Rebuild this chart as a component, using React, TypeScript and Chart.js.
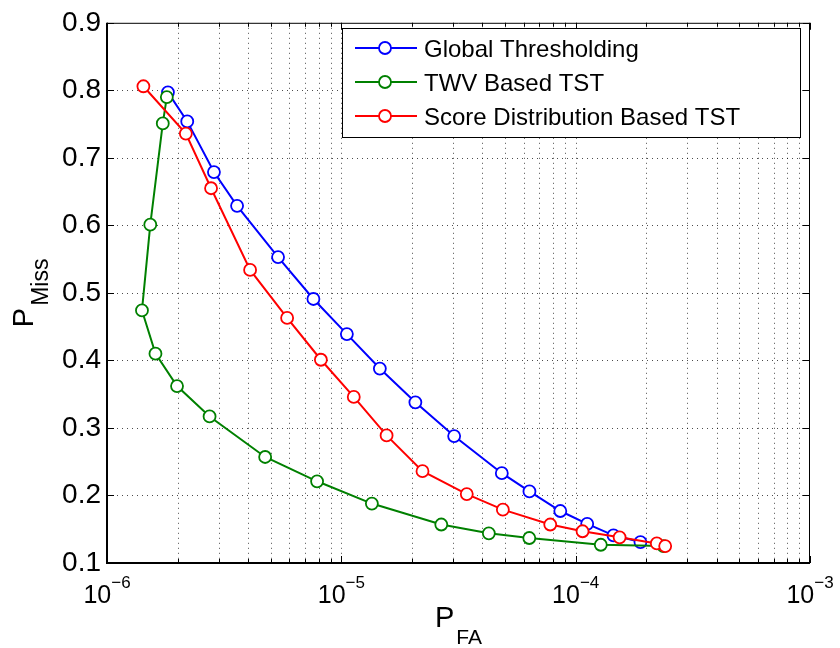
import React, { useEffect, useRef } from "react";
import { Chart, registerables } from "chart.js";
Chart.register(...registerables);

// ---- Data ----
const seriesNames = ["Global Thresholding", "TWV Based TST", "Score Distribution Based TST"];
const seriesColors = ["#0000ff", "#008000", "#ff0000"];

const globalPFA = [1.82e-6, 2.2e-6, 2.86e-6, 3.59e-6, 5.37e-6, 7.6e-6, 1.056e-5, 1.46e-5, 2.07e-5, 3.03e-5, 4.84e-5, 6.35e-5, 8.6e-5, 1.12e-4, 1.45e-4, 1.89e-4];
const globalPMiss = [0.797, 0.754, 0.679, 0.629, 0.553, 0.491, 0.439, 0.388, 0.338, 0.288, 0.233, 0.206, 0.177, 0.158, 0.141, 0.131];

const twvPFA = [1.8e-6, 1.73e-6, 1.53e-6, 1.41e-6, 1.61e-6, 1.99e-6, 2.74e-6, 4.73e-6, 7.88e-6, 1.35e-5, 2.67e-5, 4.26e-5, 6.34e-5, 1.28e-4, 2.37e-4];
const twvPMiss = [0.79, 0.751, 0.601, 0.474, 0.41, 0.362, 0.317, 0.257, 0.221, 0.188, 0.157, 0.144, 0.137, 0.127, 0.125];

const sdPFA = [1.43e-6, 2.17e-6, 2.78e-6, 4.08e-6, 5.87e-6, 8.18e-6, 1.13e-5, 1.56e-5, 2.22e-5, 3.43e-5, 4.89e-5, 7.79e-5, 1.07e-4, 1.54e-4, 2.22e-4, 2.41e-4];
const sdPMiss = [0.806, 0.736, 0.655, 0.534, 0.463, 0.401, 0.346, 0.289, 0.236, 0.202, 0.179, 0.157, 0.147, 0.138, 0.129, 0.125];

const xMin = 1e-6;
const xMax = 1e-3;
const xDecadeExponents = [-6, -5, -4, -3];
const xMinorMultipliers = [2, 3, 4, 5, 6, 7, 8, 9];
const yTicks = [0.1, 0.2, 0.3, 0.4, 0.5, 0.6, 0.7, 0.8, 0.9];

const FONT = '"Liberation Sans", Arial, Helvetica, sans-serif';

function toPoints(xs: number[], ys: number[]) {
  return xs.map((x, i) => ({ x, y: ys[i] }));
}

const decorPlugin = {
  id: "matlabDecor",
  beforeDatasetsDraw(chart: any) {
    const { ctx, chartArea } = chart;
    const { left, right, top, bottom } = chartArea;
    const xs = chart.scales.x;
    const ys = chart.scales.y;
    ctx.save();
    ctx.strokeStyle = "rgba(0,0,0,0.7)";
    ctx.lineWidth = 1;
    ctx.setLineDash([1, 4]);
    // vertical grid lines (major + minor)
    const xVals: number[] = [];
    xDecadeExponents.forEach((e) => {
      xVals.push(Math.pow(10, e));
      if (e < -3) xMinorMultipliers.forEach((m) => xVals.push(m * Math.pow(10, e)));
    });
    xVals.forEach((v) => {
      const px = Math.round(xs.getPixelForValue(v)) + 0.5;
      if (px <= left + 1 || px >= right - 1) return;
      ctx.beginPath();
      ctx.moveTo(px, top);
      ctx.lineTo(px, bottom);
      ctx.stroke();
    });
    yTicks.forEach((v) => {
      const py = Math.round(ys.getPixelForValue(v)) + 0.5;
      if (py <= top + 1 || py >= bottom - 1) return;
      ctx.beginPath();
      ctx.moveTo(left, py);
      ctx.lineTo(right, py);
      ctx.stroke();
    });
    ctx.restore();
  },
  afterDatasetsDraw(chart: any) {
    const { ctx, chartArea } = chart;
    const { left, right, top, bottom } = chartArea;
    const xs = chart.scales.x;
    const ys = chart.scales.y;
    ctx.save();
    ctx.setLineDash([]);
    ctx.strokeStyle = "#000";
    // box
    ctx.lineWidth = 1;
    ctx.beginPath();
    ctx.moveTo(left, top + 0.5);
    ctx.lineTo(right, top + 0.5);
    ctx.moveTo(right - 0.5, top);
    ctx.lineTo(right - 0.5, bottom);
    ctx.stroke();
    ctx.lineWidth = 2;
    ctx.beginPath();
    ctx.moveTo(left, top);
    ctx.lineTo(left, bottom);
    ctx.lineTo(right, bottom);
    ctx.stroke();

    // ticks
    ctx.lineWidth = 1;
    ctx.beginPath();
    xDecadeExponents.forEach((e) => {
      const px = Math.round(xs.getPixelForValue(Math.pow(10, e))) + 0.5;
      ctx.moveTo(px, bottom);
      ctx.lineTo(px, bottom - 7);
      ctx.moveTo(px, top);
      ctx.lineTo(px, top + 7);
      if (e < -3) {
        xMinorMultipliers.forEach((m) => {
          const mx = Math.round(xs.getPixelForValue(m * Math.pow(10, e))) + 0.5;
          ctx.moveTo(mx, bottom);
          ctx.lineTo(mx, bottom - 4);
          ctx.moveTo(mx, top);
          ctx.lineTo(mx, top + 4);
        });
      }
    });
    yTicks.forEach((v) => {
      const py = Math.round(ys.getPixelForValue(v)) + 0.5;
      ctx.moveTo(left, py);
      ctx.lineTo(left + 7, py);
      ctx.moveTo(right, py);
      ctx.lineTo(right - 7, py);
    });
    ctx.stroke();

    // x tick labels 10^e
    ctx.fillStyle = "#000";
    ctx.textBaseline = "alphabetic";
    ctx.textAlign = "left";
    xDecadeExponents.forEach((e) => {
      const px = xs.getPixelForValue(Math.pow(10, e));
      const base = "10";
      const sup = "\u2212" + String(Math.abs(e));
      ctx.font = `25px ${FONT}`;
      const wb = ctx.measureText(base).width;
      ctx.font = `17px ${FONT}`;
      const ws = ctx.measureText(sup).width;
      const start = px - (wb + ws) / 2;
      ctx.font = `25px ${FONT}`;
      ctx.fillText(base, start, bottom + 40);
      ctx.font = `17px ${FONT}`;
      ctx.fillText(sup, start + wb, bottom + 25);
    });

    // x axis title P_FA
    {
      const cx = (left + right) / 2;
      ctx.font = `29px ${FONT}`;
      const wp = ctx.measureText("P").width;
      ctx.font = `21px ${FONT}`;
      const wf = ctx.measureText("FA").width;
      const start = cx - (wp + wf + 2) / 2;
      ctx.font = `29px ${FONT}`;
      ctx.fillText("P", start, bottom + 64);
      ctx.font = `21px ${FONT}`;
      ctx.fillText("FA", start + wp + 2, bottom + 81);
    }

    // y axis title P_Miss (rotated)
    {
      const cy = (top + bottom) / 2;
      ctx.save();
      ctx.translate(33, cy);
      ctx.rotate(-Math.PI / 2);
      ctx.font = `29px ${FONT}`;
      const wp = ctx.measureText("P").width;
      ctx.font = `23px ${FONT}`;
      const wm = ctx.measureText("Miss").width;
      const start = -(wp + wm + 2) / 2;
      ctx.font = `29px ${FONT}`;
      ctx.fillText("P", start, 0);
      ctx.font = `23px ${FONT}`;
      ctx.fillText("Miss", start + wp + 2, 14.5);
      ctx.restore();
    }

    // legend
    {
      const lx = 342, ly = 28, lw = 458, lh = 109;
      ctx.fillStyle = "#fff";
      ctx.fillRect(lx, ly, lw, lh);
      ctx.strokeStyle = "#000";
      ctx.lineWidth = 1;
      ctx.strokeRect(lx + 0.5, ly + 0.5, lw, lh);
      const rows = [48, 82, 116];
      seriesNames.forEach((name, i) => {
        const yRow = rows[i];
        ctx.strokeStyle = seriesColors[i];
        ctx.lineWidth = 2;
        ctx.beginPath();
        ctx.moveTo(355, yRow);
        ctx.lineTo(417, yRow);
        ctx.stroke();
        ctx.beginPath();
        ctx.arc(385, yRow, 6, 0, Math.PI * 2);
        ctx.fillStyle = "#fff";
        ctx.fill();
        ctx.lineWidth = 1.8;
        ctx.stroke();
        ctx.fillStyle = "#000";
        ctx.font = `24px ${FONT}`;
        ctx.textAlign = "left";
        ctx.textBaseline = "alphabetic";
        ctx.fillText(name, 424, yRow + 9);
      });
    }
    ctx.restore();
  },
};

export default function App() {
  const canvasRef = useRef<HTMLCanvasElement | null>(null);

  useEffect(() => {
    const canvas = canvasRef.current;
    if (!canvas) return;
    const mk = (i: number, xs: number[], ys: number[], order: number) => ({
      label: seriesNames[i],
      data: toPoints(xs, ys),
      borderColor: seriesColors[i],
      backgroundColor: "#ffffff",
      pointBackgroundColor: "#ffffff",
      pointBorderColor: seriesColors[i],
      pointRadius: 6,
      pointBorderWidth: 1.8,
      borderWidth: 2,
      tension: 0,
      fill: false,
      order,
    });
    const chart = new Chart(canvas, {
      type: "line",
      data: {
        datasets: [
          mk(0, globalPFA, globalPMiss, 3),
          mk(1, twvPFA, twvPMiss, 2),
          mk(2, sdPFA, sdPMiss, 1),
        ],
      },
      options: {
        responsive: false,
        animation: false,
        devicePixelRatio: 1,
        layout: { padding: { top: 18, right: 30, left: 0, bottom: 0 } },
        plugins: { legend: { display: false }, tooltip: { enabled: false }, title: { display: false } },
        scales: {
          x: {
            type: "logarithmic",
            min: xMin,
            max: xMax,
            grid: { display: false },
            border: { display: false },
            ticks: { display: false },
            afterFit: (s: any) => {
              s.height = 85;
            },
          },
          y: {
            type: "linear",
            min: 0.1,
            max: 0.9,
            afterBuildTicks: (s: any) => {
              s.ticks = yTicks.map((v) => ({ value: v }));
            },
            grid: { display: false, drawTicks: false },
            border: { display: false },
            ticks: {
              padding: 6,
              color: "#000",
              font: { family: FONT, size: 28 },
              callback: (v: any) => Number(v).toFixed(1),
            },
            afterFit: (s: any) => {
              s.width = 107;
            },
          },
        },
      },
      plugins: [decorPlugin],
    } as any);
    return () => chart.destroy();
  }, []);

  return (
    <div style={{ position: "fixed", left: 0, top: 0, width: 840, height: 648, background: "#fff" }}>
      <canvas ref={canvasRef} width={840} height={648} style={{ width: 840, height: 648 }} />
    </div>
  );
}
